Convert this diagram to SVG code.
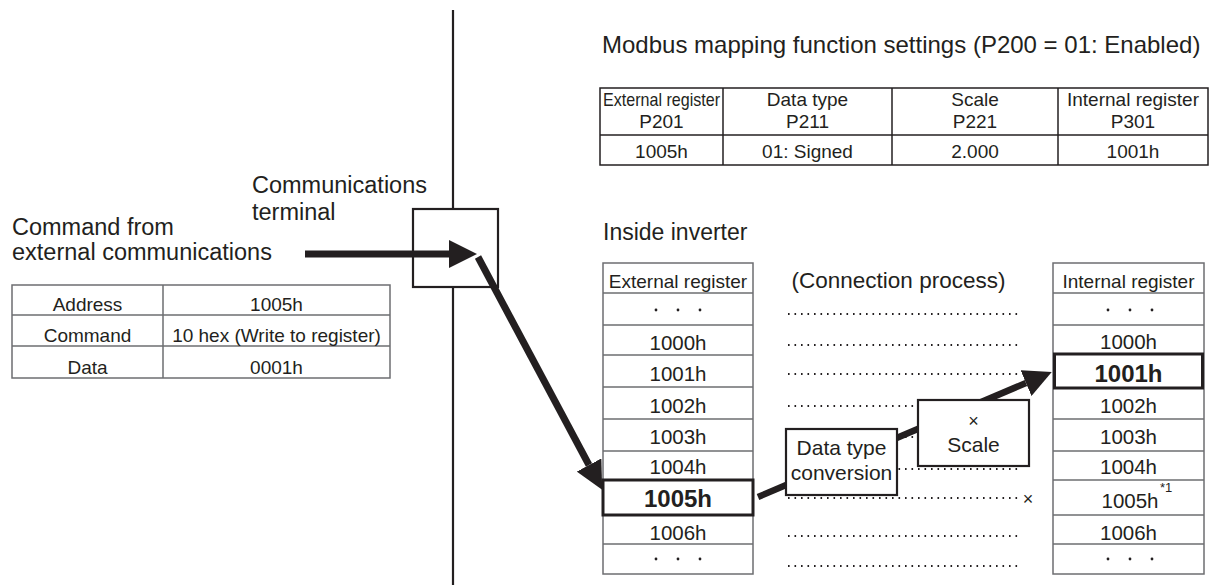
<svg xmlns="http://www.w3.org/2000/svg" width="1211" height="585" viewBox="0 0 1211 585">
<defs>
<marker id="ah" markerUnits="userSpaceOnUse" markerWidth="28" markerHeight="28" refX="0" refY="14" orient="auto" viewBox="0 0 28 28"><path d="M0,0 L28,14 L0,28 z" fill="#231f20"/></marker>
<style>
text{font-family:"Liberation Sans",Arial,sans-serif;fill:#231f20}
.lbl{font-size:23.5px}
.cell{font-size:19px;text-anchor:middle}
.reg{font-size:20.5px;text-anchor:middle}
.bold{font-size:24px;font-weight:bold;text-anchor:middle}
.box{font-size:21px;text-anchor:middle}
.grid{fill:none;stroke:#6d6e71;stroke-width:1.5}
.gl{stroke:#6d6e71;stroke-width:1.5}
.bl{fill:none;stroke:#231f20;stroke-width:1.5}
.dots{stroke:#231f20;stroke-width:2;stroke-dasharray:1.6 4.9}
.thick{fill:none;stroke:#231f20;stroke-width:7;marker-end:url(#ah)}
.hl{fill:none;stroke:#231f20;stroke-width:3}
.nb{fill:#fff;stroke:#231f20;stroke-width:2.2}
.dot{fill:#231f20}
</style>
</defs>
<rect width="1211" height="585" fill="#fff"/>

<g id="boundary"><line x1="453" y1="10" x2="453" y2="585" stroke="#231f20" stroke-width="2.2"/></g>

<g id="modbus-settings">
<text class="lbl" x="602" y="53" style="font-size:24px">Modbus mapping function settings (P200 = 01: Enabled)</text>
<rect class="bl" x="600" y="88" width="608" height="77"/>
<line class="bl" x1="723" y1="88" x2="723" y2="165"/>
<line class="bl" x1="892" y1="88" x2="892" y2="165"/>
<line class="bl" x1="1058" y1="88" x2="1058" y2="165"/>
<line class="bl" x1="600" y1="135" x2="1208" y2="135"/>
<text class="cell" x="661.5" y="106" textLength="117" lengthAdjust="spacingAndGlyphs">External register</text>
<text class="cell" x="807.5" y="106">Data type</text>
<text class="cell" x="975" y="106">Scale</text>
<text class="cell" x="1133" y="106">Internal register</text>
<text class="cell" x="661.5" y="128">P201</text>
<text class="cell" x="807.5" y="128">P211</text>
<text class="cell" x="975" y="128">P221</text>
<text class="cell" x="1133" y="128">P301</text>
<text class="cell" x="661.5" y="158">1005h</text>
<text class="cell" x="807.5" y="158">01: Signed</text>
<text class="cell" x="975" y="158">2.000</text>
<text class="cell" x="1133" y="158">1001h</text>
</g>

<g id="command-label">
<text class="lbl" x="12" y="235">Command from</text>
<text class="lbl" x="12" y="260">external communications</text>
</g>

<g id="command-table">
<rect class="grid" x="12" y="285" width="378" height="93"/>
<line class="gl" x1="163" y1="285" x2="163" y2="378"/>
<line class="gl" x1="12" y1="315" x2="390" y2="315"/>
<line class="gl" x1="12" y1="346" x2="390" y2="346"/>
<text class="cell" x="87.5" y="311">Address</text>
<text class="cell" x="276.5" y="311">1005h</text>
<text class="cell" x="87.5" y="342">Command</text>
<text class="cell" x="276.5" y="342">10 hex (Write to register)</text>
<text class="cell" x="87.5" y="374">Data</text>
<text class="cell" x="276.5" y="374">0001h</text>
</g>

<g id="terminal">
<text class="lbl" x="252" y="193">Communications</text>
<text class="lbl" x="252" y="220">terminal</text>
<rect class="nb" x="413" y="209" width="85" height="78"/>
</g>

<g id="inside-label"><text class="lbl" x="603" y="240" style="font-size:23px">Inside inverter</text></g>

<g id="external-register">
<rect class="grid" x="603" y="263" width="150" height="311"/>
<line class="gl" x1="603" y1="293" x2="753" y2="293"/>
<line class="gl" x1="603" y1="325" x2="753" y2="325"/>
<line class="gl" x1="603" y1="355" x2="753" y2="355"/>
<line class="gl" x1="603" y1="387" x2="753" y2="387"/>
<line class="gl" x1="603" y1="419" x2="753" y2="419"/>
<line class="gl" x1="603" y1="451" x2="753" y2="451"/>
<line class="gl" x1="603" y1="544" x2="753" y2="544" stroke="#231f20"/>
<text class="cell" x="678" y="288">External register</text>
<circle class="dot" cx="656" cy="310" r="1.4"/><circle class="dot" cx="678" cy="310" r="1.4"/><circle class="dot" cx="700" cy="310" r="1.4"/>
<text class="reg" x="678" y="350">1000h</text>
<text class="reg" x="678" y="381">1001h</text>
<text class="reg" x="678" y="413">1002h</text>
<text class="reg" x="678" y="444">1003h</text>
<text class="reg" x="678" y="474">1004h</text>
<rect class="hl" x="603" y="480" width="150" height="35"/>
<text class="bold" x="678" y="507">1005h</text>
<text class="reg" x="678" y="540">1006h</text>
<circle class="dot" cx="656" cy="559" r="1.4"/><circle class="dot" cx="678" cy="559" r="1.4"/><circle class="dot" cx="700" cy="559" r="1.4"/>
</g>

<g id="internal-register">
<rect class="grid" x="1053" y="263" width="151" height="311"/>
<line class="gl" x1="1053" y1="293" x2="1204" y2="293"/>
<line class="gl" x1="1053" y1="325" x2="1204" y2="325"/>
<line class="gl" x1="1053" y1="419" x2="1204" y2="419"/>
<line class="gl" x1="1053" y1="451" x2="1204" y2="451"/>
<line class="gl" x1="1053" y1="480" x2="1204" y2="480" stroke="#231f20"/>
<line class="gl" x1="1053" y1="515" x2="1204" y2="515"/>
<line class="gl" x1="1053" y1="544" x2="1204" y2="544" stroke="#231f20"/>
<text class="cell" x="1128.5" y="288">Internal register</text>
<circle class="dot" cx="1108" cy="310" r="1.4"/><circle class="dot" cx="1130" cy="310" r="1.4"/><circle class="dot" cx="1152" cy="310" r="1.4"/>
<text class="reg" x="1128.5" y="349">1000h</text>
<rect class="hl" x="1054.5" y="354" width="148" height="34"/>
<text class="bold" x="1128.5" y="382">1001h</text>
<text class="reg" x="1128.5" y="413">1002h</text>
<text class="reg" x="1128.5" y="444">1003h</text>
<text class="reg" x="1128.5" y="474">1004h</text>
<text class="reg" x="1130" y="508">1005h</text>
<text x="1160" y="492" style="font-size:13px">*1</text>
<text class="reg" x="1128.5" y="540">1006h</text>
<circle class="dot" cx="1108" cy="559" r="1.4"/><circle class="dot" cx="1130" cy="559" r="1.4"/><circle class="dot" cx="1152" cy="559" r="1.4"/>
</g>

<g id="connection-process">
<text class="lbl" x="898.5" y="288" style="font-size:22.5px;text-anchor:middle">(Connection process)</text>
<line class="dots" x1="788" y1="314" x2="1021" y2="314"/>
<line class="dots" x1="788" y1="345" x2="1021" y2="345"/>
<line class="dots" x1="788" y1="374" x2="1021" y2="374"/>
<line class="dots" x1="788" y1="406" x2="1021" y2="406"/>
<line class="dots" x1="788" y1="437" x2="1021" y2="437"/>
<line class="dots" x1="788" y1="469" x2="1021" y2="469"/>
<line class="dots" x1="788" y1="498" x2="1021" y2="498"/>
<line class="dots" x1="788" y1="536" x2="1021" y2="536"/>
<line class="dots" x1="788" y1="566" x2="1021" y2="566"/>
<text x="1028" y="505" style="font-size:18px;text-anchor:middle">×</text>
</g>

<g id="connectors">
<line class="thick" x1="305" y1="254" x2="449" y2="254"/>
<line class="thick" x1="478" y1="257" x2="589" y2="465"/>
<line class="thick" x1="758" y1="497" x2="1026" y2="383" style="stroke-width:6.5"/>
</g>

<g id="data-type-conversion">
<rect class="nb" x="786" y="429" width="111" height="66"/>
<text class="box" x="841.5" y="455">Data type</text>
<text class="box" x="841.5" y="480">conversion</text>
</g>

<g id="scale">
<rect class="nb" x="918" y="400" width="111" height="66"/>
<text x="973.5" y="427" style="font-size:18px;text-anchor:middle">×</text>
<text class="box" x="973.5" y="452">Scale</text>
</g>
</svg>
